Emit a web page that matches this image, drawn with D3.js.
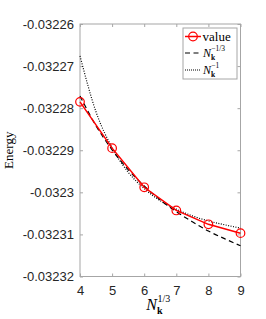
<!DOCTYPE html>
<html>
<head>
<meta charset="utf-8">
<script src="https://cdn.jsdelivr.net/npm/d3@7"></script>
<style>
  body { margin: 0; background: #fff; }
  svg { display: block; }
</style>
</head>
<body>
<div id="chart"></div>
<script>
// values
const xValues = [4, 5, 6, 7, 8, 9];
const energy = [-0.0322785, -0.0322895, -0.0322988, -0.0323043, -0.0323076, -0.0323097];

// fitted curves, sampled along x
const fitX = [4, 4.5, 5, 5.5, 6, 6.5, 7, 7.5, 8, 8.5, 9];
const fitThird = [-0.0322771, -0.0322842, -0.0322899, -0.0322946, -0.0322985, -0.0323018,
  -0.0323046, -0.0323070, -0.0323092, -0.0323110, -0.0323127];
const fitOne = [-0.0322676, -0.0322809, -0.0322894, -0.0322952, -0.0322991, -0.0323020,
  -0.0323040, -0.0323056, -0.0323068, -0.0323077, -0.0323085];

const xTicks = [4, 5, 6, 7, 8, 9];
const yTicks = [-0.03226, -0.03227, -0.03228, -0.03229, -0.0323, -0.03231, -0.03232];
const yTickLabels = ["-0.03226", "-0.03227", "-0.03228", "-0.03229", "-0.0323", "-0.03231", "-0.03232"];

const W = 266, H = 319;
const margin = { top: 24, right: 25.5, bottom: 42.5, left: 80 };
const width = W - margin.left - margin.right;
const height = H - margin.top - margin.bottom;

const svg = d3.select("#chart")
  .append("svg")
  .attr("width", W)
  .attr("height", H)
  .append("g")
  .attr("transform", "translate(" + margin.left + "," + margin.top + ")");

const xScale = d3.scaleLinear().domain([4, 9]).range([0, width]);
const yScale = d3.scaleLinear().domain([-0.03232, -0.03226]).range([height, 0]);

const axisColor = "#a6a6a6";
const tickFont = "'Liberation Sans', Arial, sans-serif";
const serif = "'Liberation Serif', 'Times New Roman', serif";

// box
svg.append("rect")
  .attr("width", width)
  .attr("height", height)
  .attr("fill", "none")
  .attr("stroke", axisColor)
  .attr("stroke-width", 1);

// ticks inside, all four sides
const xAxis = d3.axisBottom(xScale).tickValues(xTicks).tickSizeInner(-3).tickSizeOuter(0)
  .tickPadding(9).tickFormat(d3.format("d"));
const gX = svg.append("g").attr("transform", "translate(0," + height + ")").call(xAxis);
const gXt = svg.append("g").call(d3.axisTop(xScale).tickValues(xTicks).tickSizeInner(-3).tickSizeOuter(0).tickFormat(""));

const yAxis = d3.axisLeft(yScale).tickValues(yTicks).tickSizeInner(-3).tickSizeOuter(0)
  .tickPadding(6).tickFormat((d, i) => yTickLabels[i]);
const gY = svg.append("g").call(yAxis);
const gYr = svg.append("g").attr("transform", "translate(" + width + ",0)")
  .call(d3.axisRight(yScale).tickValues(yTicks).tickSizeInner(-3).tickSizeOuter(0).tickFormat(""));

[gX, gXt, gY, gYr].forEach((g) => {
  g.select(".domain").remove();
  g.selectAll(".tick line").attr("stroke", axisColor);
  g.selectAll(".tick text")
    .attr("fill", "#262626")
    .style("font-family", tickFont)
    .style("font-size", "13px");
});

// curves
const line = d3.line()
  .x((d) => xScale(d[0]))
  .y((d) => yScale(d[1]))
  .curve(d3.curveMonotoneX);

svg.append("path")
  .datum(fitX.map((x, i) => [x, fitOne[i]]))
  .attr("d", line)
  .attr("fill", "none")
  .attr("stroke", "#000")
  .attr("stroke-width", 1.2)
  .attr("stroke-dasharray", "1,1.5");

svg.append("path")
  .datum(fitX.map((x, i) => [x, fitThird[i]]))
  .attr("d", line)
  .attr("fill", "none")
  .attr("stroke", "#000")
  .attr("stroke-width", 1.2)
  .attr("stroke-dasharray", "5,3.5");

svg.append("path")
  .datum(xValues.map((x, i) => [x, energy[i]]))
  .attr("d", d3.line().x((d) => xScale(d[0])).y((d) => yScale(d[1])))
  .attr("fill", "none")
  .attr("stroke", "#ff0000")
  .attr("stroke-width", 1.5);

svg.selectAll(".pt")
  .data(xValues)
  .enter()
  .append("circle")
  .attr("class", "pt")
  .attr("cx", (d) => xScale(d))
  .attr("cy", (d, i) => yScale(energy[i]))
  .attr("r", 4.3)
  .attr("fill", "none")
  .attr("stroke", "#ff0000")
  .attr("stroke-width", 1.2);

// axis labels
svg.append("text")
  .attr("transform", "translate(" + (-67) + "," + (height / 2) + ") rotate(-90)")
  .attr("text-anchor", "middle")
  .style("font-family", serif)
  .style("font-size", "13px")
  .text("Energy");

const xl = svg.append("text")
  .attr("x", width / 2 - 14)
  .attr("y", height + 33)
  .style("font-family", serif)
  .style("font-size", "16px");
xl.append("tspan").style("font-style", "italic").text("N");
xl.append("tspan").attr("dy", 4).style("font-weight", "bold").style("font-size", "10px").text("k");
xl.append("tspan").attr("dx", -5).attr("dy", -12).style("font-size", "10px").text("1/3");

// legend
const lg = svg.append("g").attr("transform", "translate(" + (183 - margin.left) + "," + (28 - margin.top) + ")");
lg.append("rect")
  .attr("width", 54)
  .attr("height", 51)
  .attr("fill", "#fff")
  .attr("stroke", axisColor);

const entries = [
  { y: 8.5, type: "value" },
  { y: 25, type: "third" },
  { y: 42, type: "one" },
];
entries.forEach((e) => {
  const ln = lg.append("line")
    .attr("x1", 2).attr("x2", 18)
    .attr("y1", e.y).attr("y2", e.y);
  if (e.type === "value") {
    ln.attr("stroke", "#ff0000").attr("stroke-width", 1.5);
    lg.append("circle").attr("cx", 10).attr("cy", e.y).attr("r", 4.3)
      .attr("fill", "none").attr("stroke", "#ff0000").attr("stroke-width", 1.2);
    lg.append("text").attr("x", 19.5).attr("y", e.y + 4)
      .style("font-family", serif).style("font-size", "13px").text("value");
  } else {
    ln.attr("stroke", "#000").attr("stroke-width", 1.2)
      .attr("stroke-dasharray", e.type === "third" ? "5,3.5" : "1,1");
    const t = lg.append("text").attr("x", 20).attr("y", e.y + 4)
      .style("font-family", serif).style("font-size", "12px");
    t.append("tspan").style("font-style", "italic").text("N");
    t.append("tspan").attr("dy", 2.5).style("font-weight", "bold").style("font-size", "7.5px").text("k");
    t.append("tspan").attr("dx", -4).attr("dy", -9).style("font-size", "7.5px")
      .text(e.type === "third" ? "\u22121/3" : "\u22121");
  }
});
</script>
</body>
</html>
